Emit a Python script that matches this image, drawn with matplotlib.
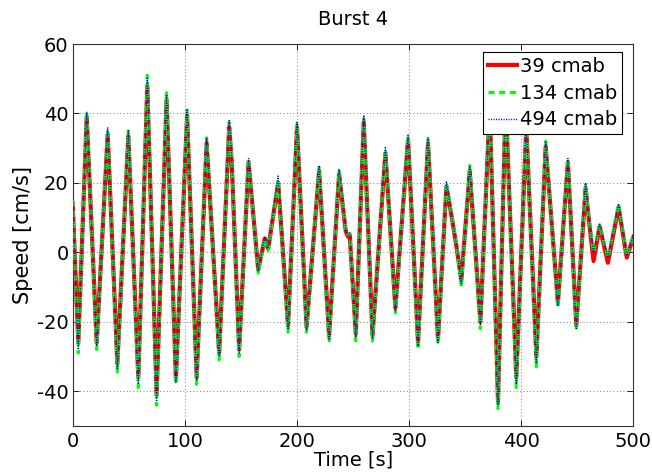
import matplotlib
matplotlib.use("Agg")
import matplotlib.pyplot as plt

# Time stamps (s) of extrema / shape points
time_s = [0, 5, 12.5, 21.4, 31.2, 39.8, 49.6, 58.5, 66.5, 74.8, 83.7, 92, 102, 110.5,
          119.4, 130.6, 139.5, 141.8, 148.4, 156.8, 165.4, 171.3, 174.3, 183.2, 192,
          200, 208.5, 219.7, 228.6, 237.5, 243.5, 245.5, 247, 252.4, 259.5, 267.3,
          278.8, 287.7, 299, 307.9, 316.8, 325.7, 333.2, 338, 342, 346.5, 354, 363.5,
          371.8, 379.2, 386, 395.5, 404.4, 413.4, 421.7, 432.6, 441.5, 449, 457.3,
          460, 464.4, 469.8, 477.2, 486.7, 494, 500]

# Speed (cm/s) at 39 cmab
speed_39 = [14, -26, 39, -26, 34, -32, 33.5, -36, 48, -41, 44, -36.5, 39.5, -36,
            31.5, -29, 36, 26, -28, 26, -5, 4, 1, 20, -21,
            36, -21.5, 23.5, -24, 22.5, 6, 4.5, 5, -23.5, 37.5, -24,
            28.5, -16, 32.5, -26, 31.5, -25, 19, 10, 2, -8, 23.5, -20,
            42, -43, 44, -36, 36, -30, 30.5, -14.5, 26, -21, 18.5,
            10, -2.5, 7.5, -3, 13, -1.5, 4.5]

# Speed (cm/s) at 134 cmab
speed_134 = [15, -29, 40.5, -28, 35.5, -34.5, 35, -39, 51, -44, 46, -38, 41, -38,
             33, -31, 37.5, 27, -30, 27, -6, 4, 0.5, 21, -23,
             37, -23, 24.5, -26, 23.5, 6.5, 5, 5.5, -25.5, 38.5, -25.5,
             29.5, -17.5, 33.5, -28, 32.5, -26.5, 20, 10.5, 2.5, -10, 25, -22,
             43, -45, 45, -39, 37, -33, 32, -16, 27, -22.5, 19.5,
             10.5, 0, 8, -1.5, 14, -1, 5]

# Speed (cm/s) at 494 cmab
speed_494 = [15, -28, 40.5, -27, 36, -33.5, 35, -38, 50.5, -43, 45.5, -37.5, 41, -37,
             33, -30, 38, 27, -29, 27, -5.5, 4.5, 1, 22, -22,
             37.5, -22.5, 25, -25, 24, 6.5, 5, 5.5, -24.5, 39.5, -25,
             30.5, -17, 34, -27, 33, -26, 20.5, 10.5, 2.5, -9, 25, -21,
             43, -44, 45, -38, 37, -32, 32, -15.5, 27, -22, 20,
             10.5, 0, 8, -1.5, 14, -1, 5]

series_labels = ["39 cmab", "134 cmab", "494 cmab"]
x_ticks = [0, 100, 200, 300, 400, 500]
y_ticks = [-40, -20, 0, 20, 40, 60]

plt.rcParams['font.family'] = ['DejaVu Sans']
plt.rcParams['axes.unicode_minus'] = False

W, H = 652, 476
fig = plt.figure(figsize=(W / 100, H / 100), dpi=100)
ax = fig.add_axes([72.7 / W, 1 - 426 / H, (633.5 - 72.7) / W, (426 - 44) / H])

ax.plot(time_s, speed_39, color='#ff0000', lw=3.0, ls='-', label=series_labels[0], zorder=3)
ax.plot(time_s, speed_134, color='#00ff00', lw=2.2, ls=(0, (2.0, 1.5)), label=series_labels[1], zorder=4)
ax.plot(time_s, speed_494, color='#0000ff', lw=1.0, ls=(0, (0.8, 1.0)), label=series_labels[2], zorder=5)

ax.set_xlim(0, 500)
ax.set_ylim(-50, 60)
ax.set_xticks(x_ticks)
ax.set_yticks(y_ticks)
ax.tick_params(direction='in', labelsize=14, length=4, width=0.6, top=True, right=True, pad=4)
ax.tick_params(axis='y', pad=3)
ax.grid(True, ls=(0, (1, 3)), color='#555555', lw=0.6)
for s in ax.spines.values():
    s.set_linewidth(0.8)
    s.set_color('#333333')

ax.set_xlabel('Time [s]', fontsize=14, labelpad=0)
ax.set_ylabel('Speed [cm/s]', fontsize=15, labelpad=2.6)
ax.set_title('Burst 4', fontsize=14, pad=14)

leg = ax.legend(loc='upper right', fontsize=14, frameon=True, fancybox=False,
                edgecolor='black', framealpha=1, borderpad=0.25, labelspacing=0.4,
                handlelength=1.5, handletextpad=0.15, borderaxespad=0,
                bbox_to_anchor=(622 / W, 1 - 52 / H), bbox_transform=fig.transFigure)
leg.get_frame().set_linewidth(0.8)

fig.savefig('out.png', dpi=100)
